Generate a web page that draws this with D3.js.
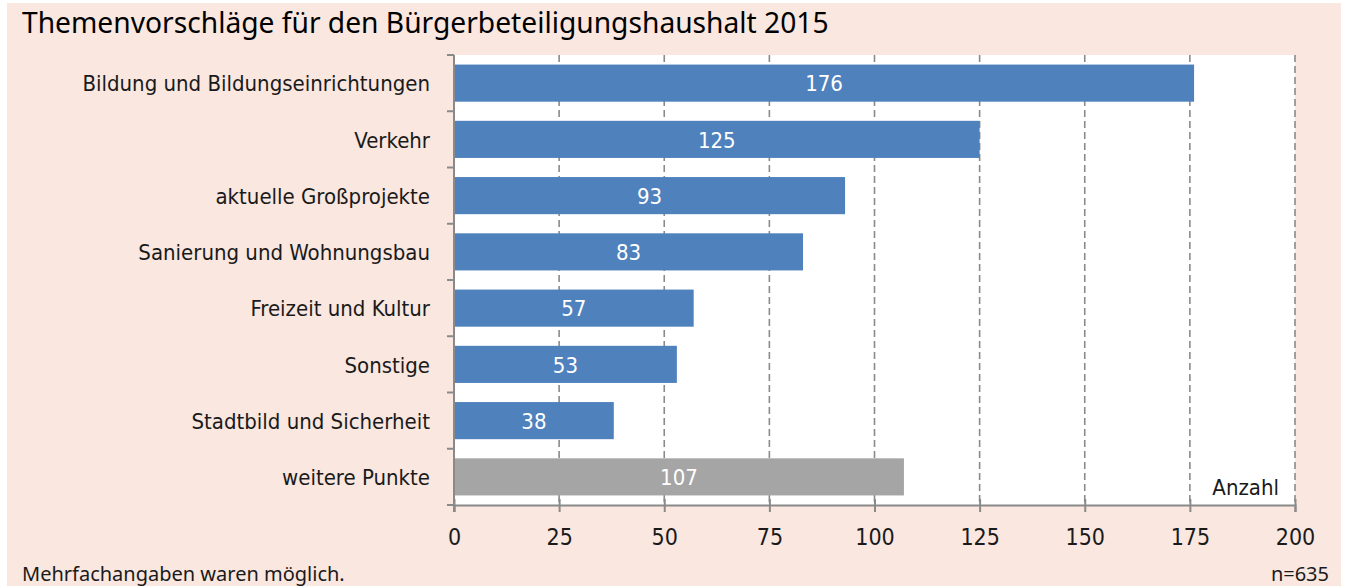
<!DOCTYPE html>
<html>
<head>
<meta charset="utf-8">
<script src="https://cdn.jsdelivr.net/npm/d3@7"></script>
<style>
  body { margin: 0; background: #fff; }
  svg { display: block; }
  .lbl { font-family: "Liberation Sans Narrow", "DejaVu Sans Condensed", sans-serif; }
</style>
</head>
<body>
<svg width="1348" height="586"></svg>
<script>
const categories = [
  "Bildung und Bildungseinrichtungen",
  "Verkehr",
  "aktuelle Großprojekte",
  "Sanierung und Wohnungsbau",
  "Freizeit und Kultur",
  "Sonstige",
  "Stadtbild und Sicherheit",
  "weitere Punkte"
];
const values = [176, 125, 93, 83, 57, 53, 38, 107];
const barColors = ["#4f81bd", "#4f81bd", "#4f81bd", "#4f81bd", "#4f81bd", "#4f81bd", "#4f81bd", "#a5a5a5"];
const xTicks = [0, 25, 50, 75, 100, 125, 150, 175, 200];

const title = "Themenvorschläge für den Bürgerbeteiligungshaushalt 2015";
const note = "Mehrfachangaben waren möglich.";
const sample = "n=635";
const unit = "Anzahl";

const svg = d3.select("svg");
const plotLeft = 454, plotRight = 1295, plotTop = 55, plotBottom = 505;

// background panel
svg.append("rect").attr("x", 7).attr("y", 3).attr("width", 1334).attr("height", 583).attr("fill", "#f9e7e0");
svg.append("rect").attr("x", plotLeft).attr("y", plotTop)
  .attr("width", plotRight - plotLeft).attr("height", plotBottom - plotTop).attr("fill", "#fff");

const x = d3.scaleLinear().domain([0, 200]).range([plotLeft, plotRight]);
const y = d3.scaleBand().domain(categories).range([plotTop, plotBottom]).paddingInner(0.34).paddingOuter(0.17);

// dashed grid
svg.append("g").selectAll("line").data(xTicks.slice(1)).join("line")
  .attr("x1", d => x(d)).attr("x2", d => x(d))
  .attr("y1", plotTop).attr("y2", plotBottom)
  .attr("stroke", "#8a8a8a").attr("stroke-width", 1.6).attr("stroke-dasharray", "7,4");

// bars
const bars = svg.append("g").selectAll("g").data(categories).join("g");
bars.append("rect")
  .attr("x", x(0)).attr("y", d => y(d))
  .attr("width", (d, i) => x(values[i]) - x(0))
  .attr("height", y.bandwidth())
  .attr("fill", (d, i) => barColors[i]);
bars.append("text").attr("class", "lbl")
  .attr("x", (d, i) => (x(0) + x(values[i])) / 2)
  .attr("y", d => y(d) + y.bandwidth() / 2)
  .attr("dy", "0.37em")
  .attr("text-anchor", "middle")
  .attr("fill", "#fff").attr("font-size", 22)
  .text((d, i) => values[i]);

// y axis with ticks at band boundaries
const yAxis = svg.append("g");
yAxis.append("line").attr("x1", plotLeft).attr("x2", plotLeft).attr("y1", plotTop).attr("y2", plotBottom + 7)
  .attr("stroke", "#8a8a8a").attr("stroke-width", 2);
yAxis.selectAll(".yt").data(d3.range(categories.length + 1)).join("line")
  .attr("x1", plotLeft - 7).attr("x2", plotLeft)
  .attr("y1", i => plotTop + i * y.step()).attr("y2", i => plotTop + i * y.step())
  .attr("stroke", "#8a8a8a").attr("stroke-width", 2);
yAxis.selectAll("text").data(categories).join("text").attr("class", "lbl")
  .attr("x", plotLeft - 24).attr("y", d => y(d) + y.bandwidth() / 2).attr("dy", "0.37em")
  .attr("text-anchor", "end").attr("font-size", 22).attr("fill", "#1a1a1a")
  .text(d => d);

// x axis
const xAxis = svg.append("g").attr("transform", `translate(0,${plotBottom})`)
  .call(d3.axisBottom(x).tickValues(xTicks).tickSize(7).tickPadding(17));
xAxis.select(".domain").attr("stroke", "#8a8a8a").attr("stroke-width", 2);
xAxis.selectAll(".tick line").attr("y1", -6).attr("stroke", "#8a8a8a").attr("stroke-width", 2);
xAxis.selectAll(".tick text").attr("class", "lbl").attr("font-size", 23).attr("fill", "#1a1a1a");

svg.append("text").attr("class", "lbl").attr("x", 1279).attr("y", 495)
  .attr("text-anchor", "end").attr("font-size", 22).attr("fill", "#1a1a1a").text(unit);

// title and footer
svg.append("text").attr("x", 22).attr("y", 33)
  .attr("font-family", "'Noto Sans', sans-serif").attr("font-size", 28.2)
  .attr("fill", "#000").text(title);
svg.append("text").attr("x", 22).attr("y", 581)
  .attr("font-family", "'Noto Sans', sans-serif").attr("font-size", 20)
  .attr("fill", "#1a1a1a").text(note);
svg.append("text").attr("x", 1329).attr("y", 581).attr("text-anchor", "end")
  .attr("font-family", "'Noto Sans', sans-serif").attr("font-size", 20)
  .attr("fill", "#1a1a1a").text(sample);
</script>
</body>
</html>
